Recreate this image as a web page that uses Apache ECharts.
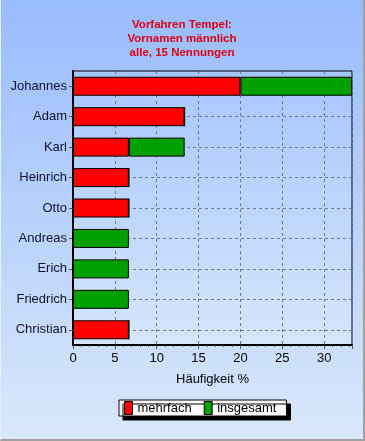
<!DOCTYPE html>
<html>
<head>
<meta charset="utf-8">
<script src="https://cdn.jsdelivr.net/npm/echarts@6/dist/echarts.min.js"></script>
<style>
html,body{margin:0;padding:0;}
#c{width:365px;height:441px;box-sizing:border-box;border-right:2px solid #a0a0a0;border-bottom:2px solid #a0a0a0;border-left:1px solid #e8f0ff;
background:linear-gradient(to bottom,#99bcff 0%,#b8d2fb 50%,#d9e8fb 100%);}
</style>
</head>
<body>
<div id="c"></div>
<script>
const titleLines = ['Vorfahren Tempel:', 'Vornamen männlich', 'alle, 15 Nennungen'];
const categories = ['Johannes','Adam','Karl','Heinrich','Otto','Andreas','Erich','Friedrich','Christian'];
const mehrfach = [20, 13.33, 6.67, 6.67, 6.67, 0, 0, 0, 6.67];
const insgesamt = [13.33, 0, 6.67, 0, 0, 6.67, 6.67, 6.67, 0];
const xTicks = [0, 5, 10, 15, 20, 25, 30];
const xMax = 33.33;
const xName = 'Häufigkeit %';
const seriesNames = ['mehrfach', 'insgesamt'];

const chart = echarts.init(document.getElementById('c'), null, {renderer: 'canvas'});
const font = 'Liberation Sans, Arial, sans-serif';
chart.setOption({
  animation: false,
  title: {
    text: titleLines.join('\n'),
    left: 'center', top: 13,
    textStyle: {color: '#e00010', fontSize: 11.5, fontWeight: 'bold', fontFamily: font, lineHeight: 14}
  },
  legend: {
    data: seriesNames.map(n => ({name: n, icon: 'rect'})),
    left: 118, top: 400,
    itemWidth: 8, itemHeight: 13, itemGap: 12,
    padding: [1, 10, 1, 5],
    backgroundColor: '#ffffff', borderColor: '#000', borderWidth: 1,
    shadowColor: '#000', shadowOffsetX: 4, shadowOffsetY: 4, shadowBlur: 0,
    textStyle: {fontSize: 13, fontFamily: font, color: '#000'},
    itemStyle: {borderColor: '#000', borderWidth: 1}
  },
  grid: {
    left: 72, right: 11, top: 71, bottom: 94,
    show: true, borderColor: '#000', borderWidth: 1,
    backgroundColor: new echarts.graphic.LinearGradient(0, 0, 0, 1, [
      {offset: 0, color: '#a6c6ff'}, {offset: 1, color: '#d6e6fb'}
    ])
  },
  xAxis: {
    type: 'value', min: 0, max: xMax, interval: 5,
    name: xName, nameLocation: 'middle', nameGap: 28,
    nameTextStyle: {fontSize: 13, fontFamily: font, color: '#000'},
    axisLine: {show: true, lineStyle: {color: '#000', width: 2}},
    axisTick: {show: true, length: 4, lineStyle: {color: '#555'}},
    minorTick: {show: true, splitNumber: 5, length: 2, lineStyle: {color: '#555'}},
    axisLabel: {fontSize: 13, fontFamily: font, color: '#000', margin: 7, showMaxLabel: false,
      formatter: v => xTicks.includes(v) ? String(v) : ''},
    splitLine: {show: true, lineStyle: {color: '#6a7a90', type: [3, 3], width: 1}}
  },
  yAxis: {
    type: 'category', data: categories, inverse: true,
    axisLine: {show: true, lineStyle: {color: '#000', width: 2}},
    axisTick: {show: true, alignWithLabel: true, length: 4, lineStyle: {color: '#555'}},
    axisLabel: {fontSize: 13, fontFamily: font, color: '#101030', margin: 6},
    splitLine: {show: true, alignWithLabel: true, lineStyle: {color: '#6a7a90', type: [3, 3], width: 1}}
  },
  series: [
    {name: seriesNames[0], type: 'bar', stack: 's', data: mehrfach, barWidth: 19,
      itemStyle: {color: '#ff0000', borderColor: '#000', borderWidth: 1}, z: 3},
    {name: seriesNames[1], type: 'bar', stack: 's', data: insgesamt, barWidth: 19,
      itemStyle: {color: '#00a000', borderColor: '#000', borderWidth: 1}, z: 3}
  ]
});
</script>
</body>
</html>
